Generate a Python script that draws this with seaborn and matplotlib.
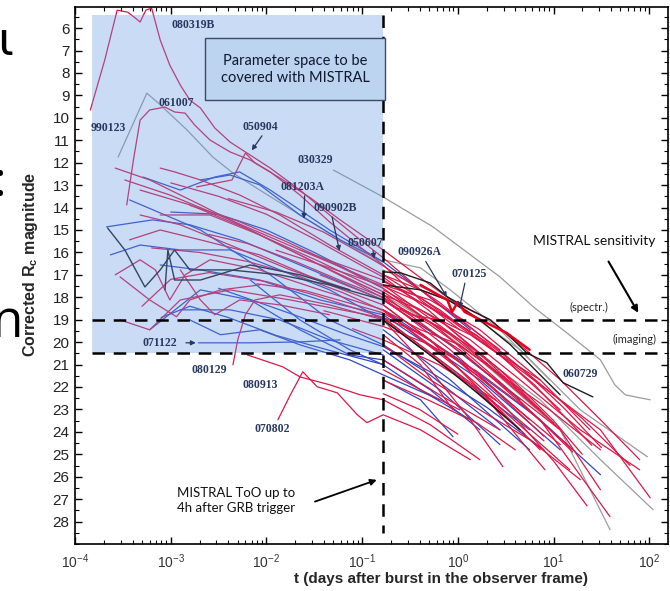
import numpy as np
import pandas as pd
import matplotlib
matplotlib.use("Agg")
import matplotlib.pyplot as plt
import seaborn as sns
from matplotlib.ticker import LogLocator, MultipleLocator, LogFormatterMathtext

sns.set_theme(style="white")
plt.rcParams['font.family'] = ['Liberation Sans', 'DejaVu Sans']
plt.rcParams['mathtext.fontset'] = 'custom'
plt.rcParams['mathtext.rm'] = 'Liberation Sans'
plt.rcParams['mathtext.bf'] = 'Liberation Sans:bold'

# ---------------- data: (log10 t [days], corrected Rc magnitude) ----------------
red_curves = [
    # 080319B
    [(-3.84, 9.65), (-3.69, 7.43), (-3.56, 5.2), (-3.45, 5.29), (-3.37, 5.55), (-3.32, 5.73), (-3.26, 5.2),
     (-3.20, 5.11), (-3.11, 6.53), (-3.01, 7.65), (-2.90, 8.54), (-2.80, 9.21), (-2.69, 9.56), (-2.54, 10.45),
     (-2.38, 11.08), (-2.17, 11.66), (-1.96, 12.24), (-1.65, 13.22), (-1.34, 14.33), (-1.02, 15.44),
     (-0.78, 16.24), (-0.39, 17.67), (0.02, 19.01), (0.44, 20.34)],
    # 061007
    [(-3.46, 13.88), (-3.39, 11.88), (-3.32, 10.10), (-3.22, 9.65), (-3.06, 9.52), (-2.96, 9.74), (-2.85, 9.79),
     (-2.75, 10.32), (-2.59, 10.99), (-2.38, 11.52), (-2.17, 11.88), (-1.96, 12.41), (-1.65, 13.44),
     (-1.34, 14.64), (-1.02, 15.76), (-0.78, 16.56), (-0.39, 18.12), (0.02, 19.45)],
    # 050904
    [(-2.73, 13.08), (-2.36, 12.77), (-2.22, 11.57), (-2.12, 12.01), (-1.86, 12.68), (-1.54, 13.57),
     (-1.23, 14.55), (-0.78, 15.89), (-0.29, 17.45), (0.23, 19.01)],
    [(-3.11, 12.24), (-2.96, 12.41), (-2.69, 12.77), (-2.28, 13.44), (-1.86, 14.33), (-1.34, 15.67),
     (-0.78, 17.00), (-0.19, 18.56), (0.44, 20.57), (1.07, 23.02)],
    [(-3.58, 12.24), (-3.22, 12.77), (-2.69, 13.88), (-2.07, 15.22), (-1.44, 16.42), (-0.78, 17.76),
     (-0.08, 19.67), (0.65, 22.12)],
    [(-3.48, 12.77), (-3.01, 13.44), (-2.38, 14.55), (-1.65, 15.89), (-0.78, 17.45), (0.02, 19.90), (0.86, 23.02)],
    [(-3.32, 13.22), (-2.80, 13.88), (-2.17, 15.00), (-1.44, 16.56), (-0.78, 17.89), (0.13, 20.79), (1.07, 23.91)],
    [(-3.11, 14.33), (-2.59, 14.33), (-2.07, 15.22), (-1.34, 16.78), (-0.78, 18.03), (-0.08, 20.34), (0.75, 23.46)],
    [(-3.43, 15.44), (-3.11, 15.00), (-2.69, 15.44), (-2.07, 16.11), (-1.34, 17.45), (-0.78, 18.34),
     (0.13, 21.23), (1.07, 24.57)],
    [(-3.58, 17.00), (-3.32, 16.33), (-3.16, 16.78), (-3.01, 18.12), (-2.85, 17.00), (-2.59, 16.33),
     (-2.07, 16.78), (-1.44, 17.67), (-0.78, 18.56), (0.02, 21.23), (0.86, 24.80)],
    [(-3.53, 19.01), (-3.22, 19.45), (-2.90, 18.12), (-2.38, 17.67), (-1.75, 18.12), (-0.78, 18.92),
     (0.23, 22.12), (1.17, 25.69)],
    # 080129
    [(-2.35, 21.01), (-2.30, 19.90), (-2.22, 18.78), (-2.12, 18.12), (-1.86, 17.89), (-1.34, 18.34),
     (-0.78, 19.01), (-0.08, 21.23), (0.65, 23.91)],
    # 080913
    [(-2.20, 20.57), (-1.83, 21.10), (-1.65, 21.55), (-1.34, 21.90), (-1.02, 22.35), (-0.78, 22.57),
     (-0.29, 23.68), (0.23, 25.24)],
    # 070802
    [(-1.88, 23.46), (-1.75, 22.35), (-1.62, 21.32), (-1.47, 21.99), (-1.26, 22.26), (-1.05, 23.24),
     (-0.95, 23.59), (-0.78, 23.24), (-0.39, 23.91), (0.13, 25.24)],
    [(-1.65, 15.89), (-0.78, 17.23), (-0.08, 19.01), (0.65, 21.23), (1.49, 23.91), (2.01, 26.94)],
    [(-1.44, 17.00), (-0.78, 18.12), (0.02, 20.34), (0.86, 23.46), (1.59, 27.78)],
    [(-0.78, 17.67), (-0.19, 19.01), (0.44, 21.23), (1.07, 23.91), (1.49, 26.58)],
    [(-0.78, 18.34), (-0.29, 19.90), (0.23, 22.12), (0.65, 24.35), (0.91, 25.69)],
    [(-0.78, 19.01), (-0.29, 21.23), (0.13, 23.46), (0.47, 25.55)],
    [(-0.78, 19.67), (-0.39, 21.01), (-0.05, 23.02)],
    [(-0.78, 20.12), (-0.29, 21.68), (0.23, 23.02), (0.75, 24.35), (1.28, 26.13)],
    [(-0.78, 20.79), (-0.19, 22.35), (0.44, 23.91)],
    [(-0.78, 21.23), (-0.39, 22.12), (0.02, 23.02)],
    [(-0.78, 17.00), (-0.39, 17.67), (0.02, 18.34), (0.34, 19.01), (0.65, 20.12), (1.07, 21.68),
     (1.49, 23.46), (1.90, 25.24)],
    [(-0.78, 17.45), (-0.29, 18.12), (0.23, 19.45), (0.86, 21.68), (1.38, 23.91)],
    [(-1.34, 16.78), (-0.78, 17.89), (-0.39, 18.56), (0.13, 19.90), (0.65, 21.68), (1.28, 23.91), (1.90, 25.69)],
    [(-0.78, 18.12), (-0.50, 18.78), (-0.19, 19.01), (0.13, 19.67), (0.44, 20.57), (0.86, 21.68)],
    [(-0.78, 18.56), (-0.39, 19.45), (0.02, 20.12), (0.44, 21.46), (0.96, 23.02), (1.49, 24.80)],
    [(-3.53, 17.09), (-3.22, 18.12), (-2.94, 18.87), (-2.80, 18.12), (-2.48, 17.67), (-2.07, 17.45)],
    [(-3.32, 14.33), (-2.90, 14.77), (-2.38, 15.67), (-1.75, 16.78), (-1.13, 17.67)],
    [(-2.90, 16.78), (-2.69, 18.12), (-2.54, 18.78), (-2.28, 18.12), (-1.86, 18.34), (-1.34, 18.78)],
    [(-3.00, 12.90), (-2.50, 13.50), (-2.00, 14.30), (-1.50, 15.40), (-1.00, 16.60), (-0.78, 17.10),
     (-0.30, 18.60), (0.30, 20.80), (0.90, 23.20)],
    [(-2.80, 13.90), (-2.30, 14.60), (-1.80, 15.50), (-1.30, 16.50), (-0.78, 17.60), (-0.20, 19.40),
     (0.50, 22.00), (1.20, 24.90)],
    [(-3.20, 15.80), (-2.70, 16.00), (-2.20, 16.40), (-1.70, 17.00), (-1.20, 17.80), (-0.78, 18.60),
     (-0.20, 20.40), (0.40, 22.60)],
    [(-2.60, 15.20), (-2.20, 15.60), (-1.70, 16.40), (-1.20, 17.30), (-0.78, 18.00), (-0.30, 19.20),
     (0.30, 21.00), (1.00, 23.60)],
    [(-3.30, 18.40), (-3.00, 17.20), (-2.60, 16.90), (-2.00, 17.30), (-1.50, 17.90), (-0.78, 18.90),
     (0.00, 21.40), (0.70, 24.10)],
    [(-2.40, 13.60), (-1.90, 14.20), (-1.40, 15.10), (-0.90, 16.30), (-0.78, 16.60), (-0.20, 18.20),
     (0.50, 20.60), (1.30, 23.40), (1.80, 25.50)],
    [(-1.90, 15.90), (-1.40, 16.60), (-0.78, 17.50), (-0.30, 18.40), (0.20, 19.70), (0.80, 21.90), (1.40, 24.60)],
    [(-2.10, 17.40), (-1.60, 17.70), (-1.10, 18.30), (-0.78, 18.70), (-0.30, 19.90), (0.30, 21.80), (0.90, 24.20)],
    [(-1.40, 18.60), (-0.78, 19.30), (-0.30, 20.10), (0.20, 21.30), (0.70, 22.90), (1.20, 24.80)],
    [(-1.10, 19.40), (-0.78, 19.90), (-0.20, 21.00), (0.40, 22.60), (0.90, 24.40)],
    [(-0.78, 17.30), (-0.40, 18.00), (-0.10, 18.90), (0.30, 20.00), (0.70, 21.30), (1.10, 22.90), (1.50, 24.70)],
    [(-0.60, 18.50), (-0.20, 19.30), (0.20, 20.40), (0.60, 21.80), (1.00, 23.50), (1.30, 25.00)],
    [(-0.78, 21.70), (-0.30, 22.60), (0.20, 23.60), (0.60, 24.80)],
    [(-0.78, 22.30), (-0.40, 23.00), (0.00, 24.10)],
    [(-0.78, 18.90), (-0.40, 19.60), (0.00, 20.80), (0.50, 22.90), (1.00, 25.30), (1.35, 27.30)],
]
# 070125 (bright red, thicker)
red_070125 = [(-0.39, 17.45), (-0.11, 18.12), (-0.06, 18.65), (0.00, 18.21), (0.07, 18.65),
              (0.30, 19.14), (0.51, 19.59), (0.75, 20.34)]

blue_curves = [
    # 081203A
    [(-2.69, 12.77), (-2.38, 12.55), (-2.07, 12.99), (-1.65, 14.33), (-1.23, 15.44), (-0.78, 16.42),
     (-0.39, 17.67), (0.13, 19.45)],
    [(-3.29, 12.64), (-2.90, 13.22), (-2.54, 12.64), (-2.28, 12.41), (-1.96, 13.22), (-1.34, 15.00), (-0.78, 16.42)],
    [(-3.67, 14.86), (-3.19, 14.55), (-2.80, 14.77), (-2.28, 15.44), (-1.65, 16.56), (-0.78, 18.12),
     (-0.08, 20.12), (0.65, 22.57)],
    # 071122
    [(-2.71, 20.03), (-2.17, 20.03), (-1.65, 19.99), (-1.23, 19.90)],
    [(-3.63, 16.11), (-3.32, 15.67), (-2.90, 15.89), (-2.38, 15.89), (-1.86, 16.78), (-1.34, 17.67),
     (-0.78, 19.01), (-0.08, 21.23), (0.75, 23.91)],
    [(-3.22, 19.45), (-2.69, 17.67), (-2.17, 18.12), (-1.65, 19.45), (-1.13, 20.57), (-0.78, 20.79),
     (-0.29, 22.12), (0.23, 23.91)],
    [(-3.43, 13.66), (-2.69, 15.00), (-1.96, 17.00), (-1.34, 19.01), (-0.78, 20.12), (-0.29, 21.46), (0.44, 23.91)],
    [(-2.17, 17.23), (-1.65, 19.01), (-1.13, 20.34), (-0.78, 21.01), (-0.39, 22.12), (0.13, 23.46)],
    [(-0.78, 19.45), (-0.08, 21.68), (0.75, 24.80)],
    [(-0.78, 20.34), (-0.19, 22.12), (0.44, 24.57)],
    [(-2.90, 18.56), (-2.38, 18.56), (-1.86, 19.01), (-1.34, 19.90), (-0.78, 20.57)],
    [(-3.11, 16.56), (-2.69, 16.78), (-2.07, 17.23), (-1.44, 18.12), (-0.78, 18.78), (0.23, 21.68), (1.07, 24.80)],
    [(-2.80, 19.01), (-2.48, 19.67), (-2.07, 19.45), (-1.65, 20.12), (-1.13, 20.79), (-0.78, 21.46), (-0.19, 22.57)],
    [(-0.78, 21.68), (-0.39, 22.57), (-0.05, 24.22)],
    [(-0.78, 18.56), (0.02, 20.79), (0.86, 23.46), (1.49, 25.91)],
    [(-3.00, 14.20), (-2.50, 14.30), (-2.00, 15.00), (-1.50, 16.00), (-1.00, 17.10), (-0.78, 17.60)],
    [(-2.50, 17.60), (-2.10, 18.20), (-1.70, 18.80), (-1.20, 19.60), (-0.78, 20.20), (-0.30, 21.30),
     (0.30, 22.90), (0.90, 24.80)],
    [(-3.10, 18.90), (-2.80, 18.40), (-2.40, 18.90), (-1.90, 19.70), (-1.40, 20.30), (-0.78, 21.00)],
]

black_curves = [
    [(-3.66, 14.91), (-3.48, 15.89), (-3.27, 17.54), (-3.11, 16.78), (-2.96, 15.89), (-2.80, 16.78),
     (-2.38, 16.78), (-1.86, 17.00), (-1.34, 17.45), (-0.78, 18.12)],
    [(-3.06, 17.67), (-3.03, 15.89), (-2.96, 17.23), (-2.69, 17.23), (-2.17, 16.56), (-1.65, 17.00), (-1.13, 17.67)],
    # 060729
    [(-0.78, 16.87), (-0.60, 16.91), (-0.29, 17.36), (-0.11, 17.98), (0.13, 18.56), (0.34, 19.01),
     (0.58, 19.90), (0.72, 20.48), (0.93, 20.92), (1.10, 21.81), (1.41, 22.44)],
    # 090926A
    [(-0.78, 17.45), (-0.39, 17.67), (-0.10, 18.12), (0.23, 19.01), (0.55, 20.12), (0.86, 21.46), (1.07, 22.35)],
    [(-0.78, 19.01), (-0.29, 20.57), (0.23, 22.35), (0.65, 23.91)],
]

gray_curves = [
    # 030329
    [(-1.30, 12.33), (-0.78, 13.53), (-0.26, 14.86), (0.16, 16.20), (0.44, 17.09), (0.79, 18.43),
     (1.14, 19.59), (1.49, 20.79), (1.64, 21.90), (1.75, 22.35), (1.90, 22.48), (2.01, 22.57)],
    # 990123
    [(-3.55, 11.75), (-3.25, 8.90), (-3.13, 9.34), (-2.83, 10.54), (-2.56, 11.75), (-2.35, 12.46),
     (-2.07, 13.22), (-1.65, 14.33), (-1.23, 15.44), (-0.78, 16.56)],
    [(-0.78, 16.78), (-0.08, 18.12), (0.65, 20.34), (1.28, 23.02), (1.98, 25.11)],
    [(-0.78, 17.89), (0.02, 19.90), (0.86, 22.57), (1.49, 25.24), (2.04, 27.47)],
    [(-0.60, 18.12), (0.23, 20.79), (1.07, 23.91), (1.59, 28.36)],
    [(-0.78, 16.33), (-0.39, 16.69), (-0.08, 17.67), (0.44, 19.45), (0.96, 21.68)],
]

# annotation labels: (text, log10 t, mag)
grb_labels = [("080319B", -2.77, 5.87), ("061007", -2.94, 9.34), ("990123", -3.65, 10.45),
              ("050904", -2.06, 10.41), ("030329", -1.49, 11.88), ("081203A", -1.62, 13.08),
              ("090902B", -1.28, 14.02), ("050607", -0.97, 15.58), ("090926A", -0.40, 16.00),
              ("070125", 0.12, 16.96), ("071122", -3.11, 20.03), ("080129", -2.60, 21.23),
              ("080913", -2.06, 21.90), ("070802", -1.94, 23.86), ("060729", 1.28, 21.41)]
# arrows: (from log t, from mag, to log t, to mag)
grb_arrows = [(-2.03, 10.70, -2.17, 11.55), (-1.60, 13.35, -1.61, 14.62), (-1.32, 14.30, -1.23, 16.05),
              (-0.89, 15.80, -0.87, 16.40), (-0.35, 16.30, -0.10, 18.10), (0.08, 17.25, 0.01, 18.60)]
arrow_071122 = (-2.87, 20.03, -2.71, 20.03)

TOO_T = 4.0 / 24.0
SPECTR_MAG = 19.0
IMAGING_MAG = 20.5
SHADE_T0 = 1.5e-4
SHADE_TOP = 5.42

def to_frame(curves, group):
    rows = []
    for i, c in enumerate(curves):
        for lt, m in c:
            rows.append((10 ** lt, m, f"{group}{i}"))
    return pd.DataFrame(rows, columns=["t", "mag", "curve"])

# ---------------- figure ----------------
fig = plt.figure(figsize=(6.7, 5.91), dpi=100)
ax = fig.add_axes([0.112, 0.0795, 0.885, 0.909])
ax.set_xscale("log")

styles = [(gray_curves, "g", "#9c9c9c", 0.9),
          (blue_curves, "b", "#2d48c4", 0.9),
          (red_curves, "r", "#dc1848", 0.9),
          (black_curves, "k", "#1c1c1c", 1.0)]
for curves, g, col, lw in styles:
    df = to_frame(curves, g)
    sns.lineplot(data=df, x="t", y="mag", units="curve", estimator=None, sort=False,
                 color=col, lw=lw, ax=ax, zorder=2, legend=False)
df = to_frame([red_070125], "r125")
sns.lineplot(data=df, x="t", y="mag", units="curve", estimator=None, sort=False,
             color="#e8001c", lw=1.8, ax=ax, zorder=2, legend=False)

# shaded parameter space
ax.fill_between([SHADE_T0, TOO_T], SHADE_TOP, IMAGING_MAG, color=(100/255, 150/255, 226/255),
                alpha=0.34, lw=0, zorder=3)

dash = (0, (5, 3.5))
ax.hlines([SPECTR_MAG, IMAGING_MAG], SHADE_T0, 140, colors="black", lw=1.8, linestyles=[dash], zorder=4)
ax.vlines(TOO_T, SHADE_TOP, 28.5, colors="black", lw=1.8, linestyles=[dash], zorder=4)

ax.set_xlim(1e-4, 157)
ax.set_ylim(29.0, 5.05)

# ticks
ax.xaxis.set_major_locator(LogLocator(base=10, numticks=10))
ax.xaxis.set_minor_locator(LogLocator(base=10, subs=np.arange(2, 10), numticks=20))
ax.xaxis.set_major_formatter(LogFormatterMathtext())
ax.yaxis.set_minor_locator(MultipleLocator(0.5))
ax.set_yticks(range(6, 29))
ax.tick_params(which="both", direction="in", top=True, right=True, bottom=True, left=True, colors="black")
ax.tick_params(which="major", length=5, width=1)
ax.tick_params(which="minor", length=3, width=0.8)
ax.tick_params(axis="y", labelsize=11, labelcolor="#222222", pad=4)
ax.tick_params(axis="x", labelsize=10, labelcolor="#333333", pad=6)
for s in ax.spines.values():
    s.set_color("black")
    s.set_linewidth(1.2)

ax.set_xlabel("t (days after burst in the observer frame)", fontsize=11, fontweight="bold")
ax.set_ylabel("Corrected R$_\\mathbf{c}$ magnitude", fontsize=11.5, fontweight="bold")
ax.xaxis.set_label_coords(0.617, -0.052)
ax.yaxis.set_label_coords(-0.059, 0.52)

# labels
lab_col = "#27375f"
for txt, lt, m in grb_labels:
    ax.text(10 ** lt, m, txt, ha="center", va="center", fontsize=8.5, fontweight="bold",
            family="Liberation Serif", color=lab_col, zorder=6)
for x0, y0, x1, y1 in grb_arrows:
    ax.annotate("", xy=(10 ** x1, y1), xytext=(10 ** x0, y0), zorder=6,
                arrowprops=dict(arrowstyle="-|>", color=lab_col, lw=0.9, mutation_scale=7))
x0, y0, x1, y1 = arrow_071122
ax.annotate("", xy=(10 ** x1, y1), xytext=(10 ** x0, y0), zorder=6,
            arrowprops=dict(arrowstyle="-|>", color=lab_col, lw=0.9, mutation_scale=7))

ax.text(10 ** -1.70, 7.83, "Parameter space to be\ncovered with MISTRAL", ha="center", va="center",
        fontsize=10.5, family="Lato", color="#101830", linespacing=1.25, zorder=7,
        bbox=dict(boxstyle="square,pad=1.05", fc="#bcd4f0", ec="#3b4a68", lw=1))

ax.text(10 ** 1.42, 15.49, "MISTRAL sensitivity", ha="center", va="center", fontsize=10,
        family="Lato", color="#111111", zorder=7)
ax.annotate("", xy=(10 ** 1.90, 18.8), xytext=(10 ** 1.56, 16.3), zorder=7,
            arrowprops=dict(arrowstyle="-|>", color="black", lw=1.5, mutation_scale=10))
ax.text(10 ** 1.37, 18.47, "(spectr.)", ha="center", va="center", fontsize=8, family="Lato", zorder=7)
ax.text(10 ** 1.85, 19.90, "(imaging)", ha="center", va="center", fontsize=8, family="Lato", zorder=7)

ax.text(10 ** -2.32, 27.07, "MISTRAL ToO up to\n4h after GRB trigger", ha="center", va="center",
        fontsize=9.5, family="Lato", color="#111111", linespacing=1.3, zorder=7)
ax.annotate("", xy=(10 ** -0.82, 26.1), xytext=(10 ** -1.52, 27.15), zorder=7,
            arrowprops=dict(arrowstyle="-|>", color="black", lw=1.3, mutation_scale=9))

# fragments of surrounding slide text at the left edge
fig.text(-0.004, 1 - 55 / 591, "ι", fontsize=34, family="DejaVu Sans", color="black", va="baseline")
fig.text(0.009, 1 - 196 / 591, ":", fontsize=34, family="Open Sans", color="black", va="baseline", ha="right")
fig.text(-0.013, 1 - 337 / 591, "n", fontsize=37, family="Open Sans", color="black", va="baseline")

fig.savefig("out.png", dpi=100)
